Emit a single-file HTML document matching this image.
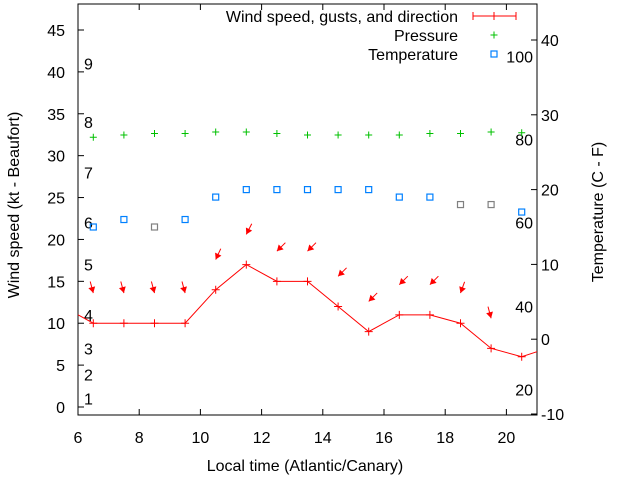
<!DOCTYPE html>
<html><head><meta charset="utf-8"><style>
html,body{margin:0;padding:0;background:#fff}
svg{display:block;font-family:"Liberation Sans",sans-serif}
</style></head><body>
<svg id="chart" width="640" height="480" viewBox="0 0 640 480">
<g id="axes"></g>
<g id="marks"></g>
<g id="legend"></g>
</svg>
<script>
var times=[6.5,7.5,8.5,9.5,10.5,11.5,12.5,13.5,14.5,15.5,16.5,17.5,18.5,19.5,20.5];
var windSpeed=[10,10,10,10,14,17,15,15,12,9,11,11,10,7,6];
var windEdges=[11,6.6];
var windDir=[345,345,345,345,25,27,45,45,45,45,45,45,20,345,null];
var temperature=[15,16,15,16,19,20,20,20,20,20,19,19,18,18,17];
var tempGray=[false,false,true,false,false,false,false,false,false,false,false,false,true,true,false];
var pressure=[27,27.3,27.5,27.5,27.7,27.7,27.5,27.3,27.3,27.3,27.3,27.5,27.5,27.7,27.6];
var xTicks=[6,8,10,12,14,16,18,20];
var yTicks=[0,5,10,15,20,25,30,35,40,45];
var y2Ticks=[-10,0,10,20,30,40];
var beaufortLabels=["1","2","3","4","5","6","7","8","9"];
var beaufortValues=[1,3.9,7,11,17,22,28,34,41];
var fahrLabels=["20","40","60","80","100"];
var fahrValues=[-6.7,4.4,15.6,26.7,37.8];

var NS="http://www.w3.org/2000/svg";
var L=78,R=537,T=4,B=415,FS=16;
function X(v){return L+(v-6)*(R-L)/15;}
function Y(v){return 407-v*8.378;}
function Y2(v){return 414-(v+10)*7.48;}
function mk(tag,attrs,parent,txt){var e=document.createElementNS(NS,tag);for(var k in attrs)e.setAttribute(k,attrs[k]);if(txt!==undefined)e.textContent=txt;parent.appendChild(e);return e;}
var ax=document.getElementById('axes'),mg=document.getElementById('marks'),lg=document.getElementById('legend');

var box=mk('rect',{x:L,y:T,width:R-L,height:B-T,fill:'none',stroke:'#000','stroke-width':1},ax);


xTicks.forEach(function(t){
 var x=X(t);
 mk('line',{x1:x,y1:B,x2:x,y2:B-6,stroke:'#000'},ax);
 mk('line',{x1:x,y1:T,x2:x,y2:T+6,stroke:'#000'},ax);
 var tx=mk('text',{x:x,y:443,'text-anchor':'middle','font-size':FS},ax,String(t));
 
 
});
yTicks.forEach(function(t){
 var y=Y(t);
 mk('line',{x1:L,y1:y,x2:L+6,y2:y,stroke:'#000'},ax);
 var tx=mk('text',{x:65,y:y+6,'text-anchor':'end','font-size':FS},ax,String(t));
 
 
});
y2Ticks.forEach(function(t){
 var y=Y2(t);
 mk('line',{x1:R,y1:y,x2:R-6,y2:y,stroke:'#000'},ax);
 var tx=mk('text',{x:541,y:y+6,'font-size':FS},ax,String(t));
 
 
});
beaufortLabels.forEach(function(s,i){
 var tx=mk('text',{x:84,y:Y(beaufortValues[i])+6,'font-size':FS},ax,s);
 
 
});
fahrLabels.forEach(function(s,i){
 var tx=mk('text',{x:533,y:Y2(fahrValues[i])+6,'text-anchor':'end','font-size':FS},ax,s);
 
 
});
var xt=mk('text',{x:305,y:471,'text-anchor':'middle','font-size':FS},ax,'Local time (Atlantic/Canary)');


var yt=mk('text',{x:0,y:0,'text-anchor':'middle','font-size':FS,transform:'translate(19,205) rotate(-90)'},ax,'Wind speed (kt - Beaufort)');


var y2t=mk('text',{x:0,y:0,'text-anchor':'middle','font-size':FS,transform:'translate(603,212) rotate(-90)'},ax,'Temperature (C - F)');



var pts=[[L,Y(windEdges[0])]];
times.forEach(function(t,i){pts.push([X(t),Y(windSpeed[i])]);});
pts.push([R,Y(windEdges[1])]);
var wl=mk('polyline',{points:pts.map(function(p){return p.join(',');}).join(' '),fill:'none',stroke:'#f00','stroke-width':1},mg);


times.forEach(function(t,i){
 var x=X(t),y=Y(windSpeed[i]);
 var p=mk('path',{d:'M'+(x-4)+' '+y+'H'+(x+4)+'M'+x+' '+(y-4)+'V'+(y+4),stroke:'#f00','stroke-width':1},mg);
 
 
});
times.forEach(function(t,i){
 if(windDir[i]===null)return;
 var r=windDir[i]*Math.PI/180,dx=-Math.sin(r),dy=Math.cos(r);
 var hx=X(t),hy=Y(windSpeed[i]+3.6),tx=hx-dx*12,ty=hy-dy*12;
 var px=-dy,py=dx;
 var g=mk('g',{},mg);
 
 
 mk('line',{x1:tx,y1:ty,x2:hx,y2:hy,stroke:'#f00','stroke-width':1},g);
 var bx=hx-dx*6,by=hy-dy*6;
 mk('polygon',{points:hx+','+hy+' '+(bx+px*3.5)+','+(by+py*3.5)+' '+(bx-px*3.5)+','+(by-py*3.5),fill:'#f00'},g);
});
pressure.forEach(function(v,i){
 var x=X(times[i]),y=Y2(v);
 var p=mk('path',{d:'M'+(x-3.5)+' '+y+'H'+(x+3.5)+'M'+x+' '+(y-3.5)+'V'+(y+3.5),stroke:'#00c000','stroke-width':1},mg);
 
 
});
temperature.forEach(function(v,i){
 var x=X(times[i]),y=Y2(v);
 var p=mk('rect',{x:x-3,y:y-3,width:6,height:6,fill:'none',stroke:tempGray[i]?'#808080':'#0080ff','stroke-width':1.2},mg);
 
 
});
var lgNames=['Wind speed, gusts, and direction','Pressure','Temperature'];
lgNames.forEach(function(n,i){
 var y=16+i*19;
 var e=mk('text',{x:458,y:y+6,'text-anchor':'end','font-size':FS},lg,n);
 
 
});
var l1=mk('path',{d:'M473 16H516M473 12V20M494 12V20M516 12V20',stroke:'#f00','stroke-width':1,fill:'none'},lg);


var l2=mk('path',{d:'M490.5 35H497.5M494 31.5V38.5',stroke:'#00c000','stroke-width':1},lg);


var l3=mk('rect',{x:491,y:51,width:6,height:6,fill:'none',stroke:'#0080ff','stroke-width':1.2},lg);


</script>
</body></html>
